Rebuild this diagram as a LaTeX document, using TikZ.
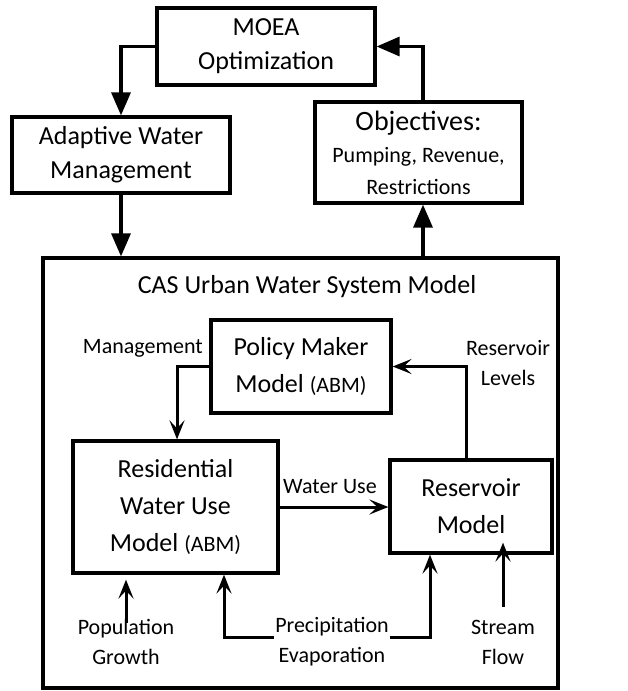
\documentclass[tikz,border=0pt]{standalone}
\usepackage{fontspec}
\setmainfont{Carlito}
\usetikzlibrary{arrows.meta}
\newcommand{\smalltag}[1]{{\fontsize{22}{36}\selectfont #1}}

\begin{document}
\begin{tikzpicture}[x=1pt, y=-1pt,
    every node/.style={align=center},
    box/.style={rectangle, draw, line width=3.2pt, inner sep=2pt, font=\fontsize{26}{37}\selectfont},
    lbl/.style={inner sep=1pt, font=\fontsize{22}{30}\selectfont},
    flow/.style={line width=3.2pt, -{Triangle[length=23pt,width=19pt]}},
    link/.style={line width=3pt, -{Stealth[length=19pt,width=15pt,inset=8pt]}}
]
\useasboundingbox (0,0) rectangle (627,691);

% outer loop
\node[box, minimum width=218pt, minimum height=77pt, font=\fontsize{26}{34}\selectfont] (moea) at (266,46.5) {MOEA\\Optimization};
\node[box, minimum width=218pt, minimum height=76pt, font=\fontsize{26}{34}\selectfont] (adaptive) at (121,155) {Adaptive Water\\Management};
\node[box, minimum width=207pt, minimum height=101pt, font=\fontsize{28}{32}\selectfont] (objectives) at (418.5,152.5) {Objectives:\\\smalltag{Pumping, Revenue,}\\\smalltag{Restrictions}};

% system model
\node[draw, line width=3.2pt, minimum width=515pt, minimum height=430pt] (cas) at (300.5,473) {};
\node[inner sep=0pt, font=\fontsize{26}{32}\selectfont] (castitle) at (307,287) {CAS Urban Water System Model};

\node[box, minimum width=180pt, minimum height=93pt] (policy) at (301,366.5) {Policy Maker\\Model \smalltag{(ABM)}};
\node[box, minimum width=205pt, minimum height=132pt] (residential) at (175.5,507) {Residential\\Water Use\\Model \smalltag{(ABM)}};
\node[box, minimum width=162pt, minimum height=93pt] (reservoir) at (471,506.5) {Reservoir\\Model};

% inputs
\node[lbl] (population) at (126,642) {Population\\Growth};
\node[lbl] (precip) at (332,642) {Precipitation\\Evaporation};
\node[lbl] (stream) at (503,642) {Stream\\Flow};

% labels
\node[lbl, anchor=east] (mgmt) at (204,348) {Management};
\node[lbl] (levels) at (508,363) {Reservoir\\Levels};
\node[lbl] (wateruse) at (330,487) {Water Use};

% connectors
\draw[flow] (moea.west) -| (adaptive.north);
\draw[flow] ([xshift=4.5pt]objectives.north) |- (moea.east);
\draw[flow] (adaptive.south) -- (adaptive.south |- cas.north);
\draw[flow] ([xshift=4.5pt]objectives.south |- cas.north) -- ([xshift=4.5pt]objectives.south);

\draw[link] (policy.west) -| ([xshift=1.5pt]residential.north);
\draw[link] ([xshift=-5pt]reservoir.north) |- (policy.east);
\draw[link] (residential.east) -- (residential.east -| reservoir.west);

\draw[link] ([yshift=-5pt]population.north) -- ([yshift=-5pt]population.north |- residential.south);
\draw[link] ([yshift=5pt]precip.west) -| ([xshift=48.5pt]residential.south);
\draw[link] ([yshift=5pt]precip.east) -| ([xshift=-41pt]reservoir.south);
\draw[link] ([yshift=12pt]stream.north) -- ([yshift=12pt]stream.north |- reservoir.south);
\end{tikzpicture}
\end{document}
